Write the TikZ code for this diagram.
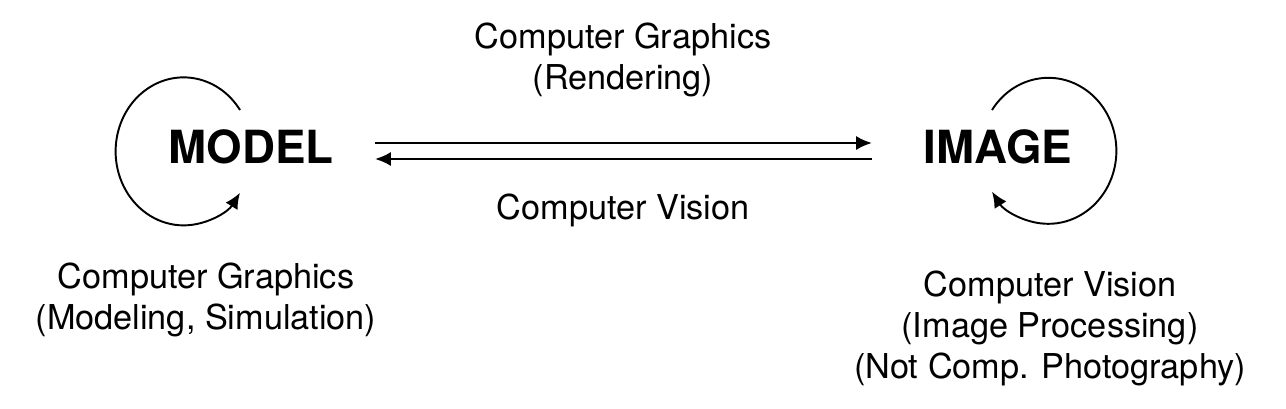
\documentclass[tikz,border=0pt]{standalone}
\usepackage{fontspec}
\setmainfont{TeX Gyre Heros}
\usetikzlibrary{arrows.meta}

\tikzset{
  txt/.style={align=center,inner sep=0pt,font=\fontsize{19.5}{23.3}\selectfont},
  big/.style={inner sep=0pt,font=\fontsize{26}{30}\selectfont\bfseries},
  flow/.style={line width=1.4pt,-{Latex[length=9pt,width=8pt]}},
  loop/.style={line width=1.1pt,-{Latex[length=9pt,width=8pt]}}
}

\begin{document}
\begin{tikzpicture}[x=0.02cm,y=-0.02cm]
      \useasboundingbox (0,0) rectangle (1286,409);

      % MAIN WORDS
      \node[big] (model) at (251,147) {MODEL};
      \node[big] (image) at (998,147) {IMAGE};

      % ends of the two arrows
      \coordinate (rendA) at (375,143);
      \coordinate (rendB) at (872,143);
      \coordinate (visA)  at (872,159);
      \coordinate (visB)  at (375,159);

      % NOTES
      \node[txt] (cgtop) at (623,60) {Computer Graphics\\(Rendering)};
      \node[txt] (cvmid) at (623,210) {Computer Vision};
      \node[txt] (cgleft) at (206,300) {Computer Graphics\\(Modeling, Simulation)};
      \node[txt] (cvright) at (1050,328) {Computer Vision\\(Image Processing)\\(Not Comp. Photography)};

      % ARROWS
      \draw[flow] (rendA) -- (rendB);
      \draw[flow] (visA) -- (visB);

      % LOOPS
      \draw[loop] (240,110) arc[start angle=-34, end angle=-326, x radius=68, y radius=74];
      \draw[loop] (992,110) arc[start angle=-146, end angle=146, x radius=68, y radius=73];

\end{tikzpicture}
\end{document}
